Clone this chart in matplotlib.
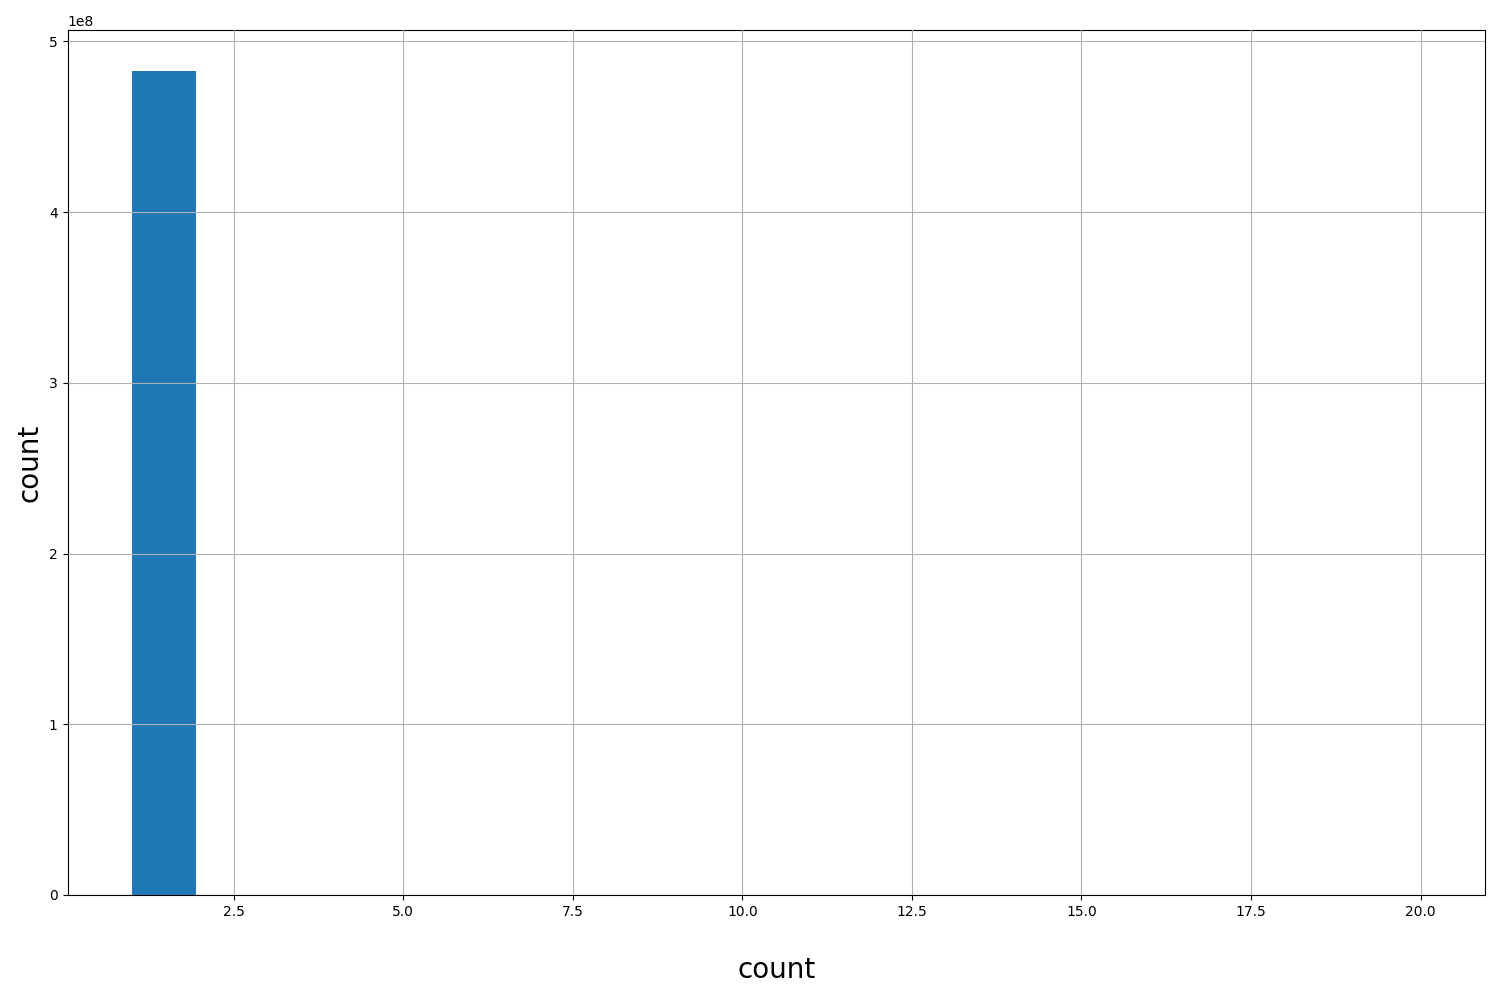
"""histogram of count values"""
import numpy as np
import matplotlib
matplotlib.use('Agg')
from matplotlib import pyplot

# count value -> number of occurrences (tail bins too small to see)
count_values = [1, 2, 3, 4, 5, 6, 7, 8, 9, 10,
                11, 12, 13, 14, 15, 16, 17, 18, 19, 20]
occurrences = [482600000, 90000, 30000, 15000, 9000, 6000, 4000, 3000, 2000, 1500,
               1200, 900, 700, 600, 500, 400, 300, 250, 200, 150]
N_BINS = 20

fig = pyplot.figure(figsize=(15, 10), dpi=100)
ax = fig.add_subplot(1, 1, 1)
ax.hist(count_values, bins=N_BINS, weights=occurrences, color='#1f77b4')
ax.grid(True)
ax.set_axisbelow(False)
ax.set_xlabel('count', fontsize=20, labelpad=27)
ax.set_ylabel('count', fontsize=20)
fig.subplots_adjust(left=0.045, right=0.99, top=0.97, bottom=0.105)
pyplot.savefig('out.png')
